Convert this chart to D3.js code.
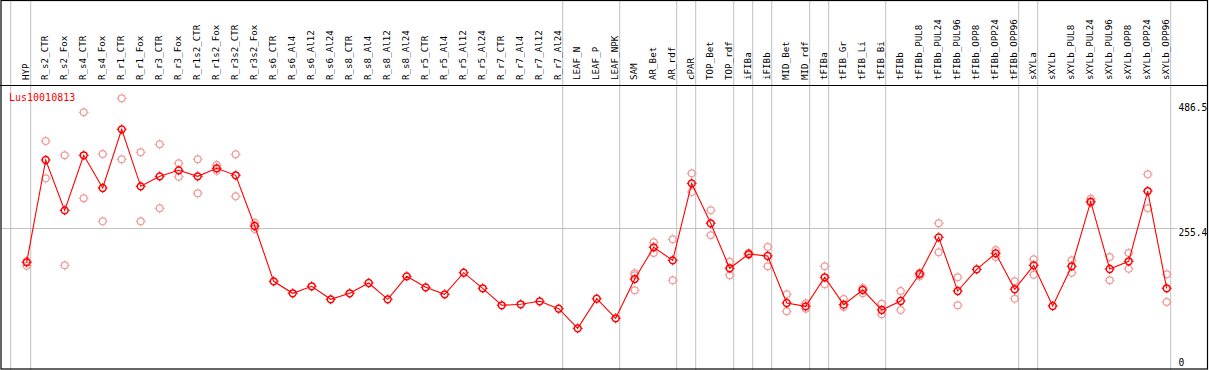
<!DOCTYPE html>
<html>
<head>
<meta charset="utf-8">
<script src="https://cdn.jsdelivr.net/npm/d3@7/dist/d3.min.js"></script>
<style>
html,body{margin:0;padding:0;background:#fff;}
svg{display:block;}
</style>
</head>
<body>
<svg id="chart" width="1209" height="370"></svg>
<script>
const title = "Lus10010813";
const categories = ["HYP","R_s2_CTR","R_s2_Fox","R_s4_CTR","R_s4_Fox","R_r1_CTR","R_r1_Fox","R_r3_CTR","R_r3_Fox","R_r1s2_CTR","R_r1s2_Fox","R_r3s2_CTR","R_r3s2_Fox","R_s6_CTR","R_s6_Al4","R_s6_Al12","R_s6_Al24","R_s8_CTR","R_s8_Al4","R_s8_Al12","R_s8_Al24","R_r5_CTR","R_r5_Al4","R_r5_Al12","R_r5_Al24","R_r7_CTR","R_r7_Al4","R_r7_Al12","R_r7_Al24","LEAF_N","LEAF_P","LEAF_NPK","SAM","AR_Bet","AR_rdf","cPAR","TOP_Bet","TOP_rdf","iFIBa","iFIBb","MID_Bet","MID_rdf","tFIBa","tFIB_Gr","tFIB_Li","tFIB_Bi","tFIBb","tFIBb_PUL8","tFIBb_PUL24","tFIBb_PUL96","tFIBb_OPP8","tFIBb_OPP24","tFIBb_OPP96","sXYLa","sXYLb","sXYLb_PUL8","sXYLb_PUL24","sXYLb_PUL96","sXYLb_OPP8","sXYLb_OPP24","sXYLb_OPP96"];
const meanValues = [192.1,380.8,288.0,389.5,329.2,437.4,332.3,350.7,361.8,350.7,365.5,352.6,259.1,157.1,135.0,147.9,123.9,135.0,154.0,123.9,166.3,146.0,133.1,173.0,144.2,112.9,114.7,120.2,106.6,70.4,125.0,88.9,161.3,219.8,195.8,337.8,264.1,181.1,207.4,203.8,117.1,111.0,164.5,114.0,141.1,104.2,120.8,170.6,238.2,139.2,179.2,208.7,142.4,186.6,111.6,184.8,303.9,179.8,194.0,323.6,144.2];
const repA = [194.5,415.8,389.5,468.7,391.9,494.6,395.0,409.7,374.7,382.1,371.6,391.3,265.2,null,null,null,null,null,null,null,null,null,null,null,null,null,null,null,null,null,null,null,171.9,229.0,234.6,356.3,288.0,193.3,209.8,220.4,133.1,116.5,184.8,124.5,144.8,115.8,139.2,173.0,264.1,164.5,null,214.8,157.1,197.7,null,195.8,309.4,201.9,209.3,354.4,170.0];
const repB = [185.9,347.0,186.6,310.2,267.7,382.1,267.7,291.7,350.0,319.4,361.1,313.8,253.5,null,null,null,null,null,null,null,null,null,null,null,null,null,null,null,null,null,null,null,168.2,209.3,159.0,321.8,241.9,168.2,205.6,184.8,101.8,106.6,151.6,109.7,135.0,96.3,104.2,166.3,210.6,112.9,null,201.9,125.0,169.3,null,173.0,302.0,159.0,180.3,291.7,118.9];
const repC = [null,null,null,null,null,null,null,null,null,null,null,null,null,null,null,null,null,null,null,null,null,null,null,null,null,null,null,null,null,null,null,null,140.5,null,null,null,null,null,null,null,null,null,null,null,null,null,null,null,null,null,null,null,null,null,null,null,null,null,null,null,null];
const groupEnds = ["HYP","R_r7_Al24","LEAF_NPK","AR_rdf","cPAR","TOP_rdf","iFIBa","iFIBb","MID_rdf","tFIBa","tFIB_Bi","tFIBb_OPP96","sXYLa","sXYLb_OPP96"];
const yTickValues = [486.5, 255.4, 0];
const yMax = 486.5;
const midLine = 255.4;

const W = 1209, H = 370;
const svg = d3.select("#chart");
const headerY = 85;

const x = d3.scalePoint().domain(categories).range([26.7, 26.7 + 19 * (categories.length - 1)]);
const y = d3.scaleLinear().domain([0, yMax]).range([366.5, 102.7]);

// grid lines (vertical group separators)
const gx = [x(categories[0]) - 16].concat(groupEnds.map(c => x(c) + 4));
svg.append("g").selectAll("line").data(gx).join("line")
  .attr("x1", d => d).attr("x2", d => d).attr("y1", 0).attr("y2", H)
  .attr("stroke", "#c0c0c0").attr("stroke-width", 1);

// horizontal mid line
svg.append("line").attr("x1", 1).attr("x2", 1177)
  .attr("y1", Math.round(y(midLine)) + 0.5).attr("y2", Math.round(y(midLine)) + 0.5)
  .attr("stroke", "#c0c0c0").attr("stroke-width", 1);

// frame
svg.append("rect").attr("x", 1).attr("y", 0.5).attr("width", 1206.5).attr("height", 368.5)
  .attr("fill", "none").attr("stroke", "#000").attr("stroke-width", 1.2);
svg.append("line").attr("x1", 0).attr("x2", 1208).attr("y1", headerY + 0.5).attr("y2", headerY + 0.5)
  .attr("stroke", "#000").attr("stroke-width", 1.2);

// category labels
svg.append("g").selectAll("text").data(categories).join("text")
  .attr("transform", d => `translate(${x(d) + 2},80) rotate(-90)`)
  .attr("font-family", "DejaVu Sans Mono, monospace").attr("font-size", 9.2)
  .attr("fill", "#000").text(d => d);

// title
svg.append("text").attr("x", 9).attr("y", 101).attr("fill", "#ff0000")
  .attr("font-family", "DejaVu Sans Mono, monospace").attr("font-size", 10).text(title);

// y labels
svg.append("g").selectAll("text").data(yTickValues).join("text")
  .attr("x", 1178.5)
  .attr("y", (d, i) => i === yTickValues.length - 1 ? y(d) - 1 : y(d) + 8)
  .attr("font-family", "DejaVu Sans Mono, monospace").attr("font-size", 9.6)
  .attr("fill", "#000").text(d => String(d));

function marker(g, pts, color, sw) {
  const m = g.selectAll("g.m").data(pts).join("g").attr("class", "m")
    .attr("transform", d => `translate(${d[0]},${d[1]})`);
  m.append("circle").attr("r", 3.4).attr("fill", "none").attr("stroke", color).attr("stroke-width", sw);
  const t = [[0,-3.4,0,-5],[0,3.4,0,5],[-3.4,0,-5,0],[3.4,0,5,0]];
  t.forEach(s => m.append("line").attr("x1", s[0]).attr("y1", s[1]).attr("x2", s[2]).attr("y2", s[3])
    .attr("stroke", color).attr("stroke-width", 1));
}

// replicates
const reps = [];
[repA, repB, repC].forEach(arr => arr.forEach((v, i) => { if (v != null) reps.push([x(categories[i]), y(v)]); }));
marker(svg.append("g"), reps, "#f19a9a", 1.2);

// mean line
const meanPts = meanValues.map((v, i) => [x(categories[i]), y(v)]);
svg.append("path").datum(meanPts)
  .attr("d", d3.line())
  .attr("fill", "none").attr("stroke", "#ff0000").attr("stroke-width", 1.1);
marker(svg.append("g"), meanPts, "#ff0000", 1.5);
</script>
</body>
</html>
